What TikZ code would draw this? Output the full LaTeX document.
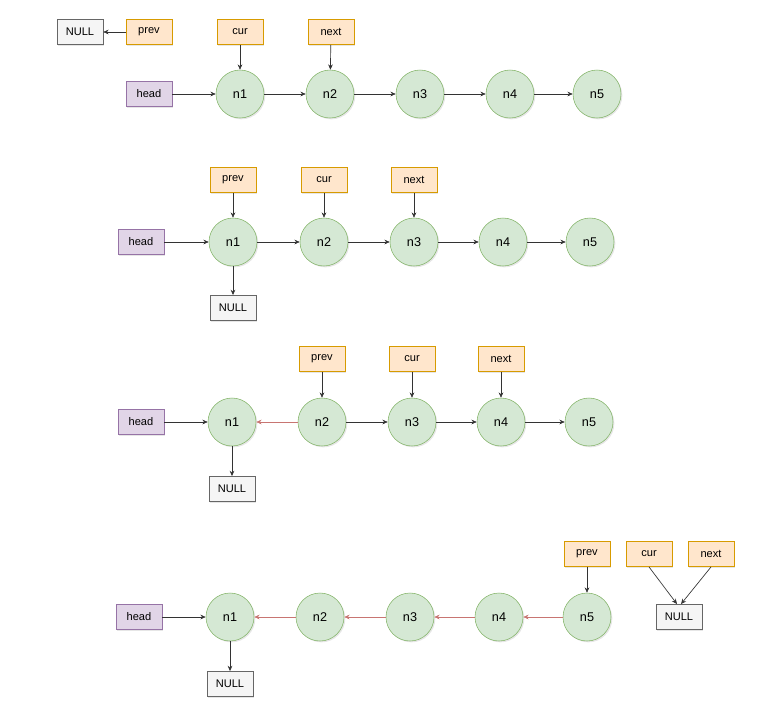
\documentclass[tikz,border=0pt]{standalone}
\usepackage{fontspec}
\setmainfont{Liberation Sans}
\usepackage{tikz}
\usetikzlibrary{arrows.meta, positioning, shadows}
\definecolor{NodeGreen}{HTML}{D5E8D4}
\definecolor{NodeGreenLine}{HTML}{82B366}
\definecolor{PtrOrange}{HTML}{FFE6CC}
\definecolor{PtrOrangeLine}{HTML}{D79B00}
\definecolor{HeadPurple}{HTML}{E1D5E7}
\definecolor{HeadPurpleLine}{HTML}{9673A6}
\definecolor{NullGray}{HTML}{F5F5F5}
\definecolor{NullGrayLine}{HTML}{666666}
\definecolor{RevRed}{HTML}{C87572}
\tikzset{
  soft/.style={drop shadow={opacity=0.2, shadow xshift=1pt, shadow yshift=-1pt}},
  lnode/.style={circle, soft, fill=NodeGreen, draw=NodeGreenLine, minimum size=36pt, inner sep=0pt, font=\fontsize{9.5}{11}\selectfont},
  box/.style={rectangle, soft, minimum width=34.5pt, minimum height=19pt, inner sep=0pt, font=\fontsize{8.3}{9}\selectfont},
  ptr/.style={box, fill=PtrOrange, draw=PtrOrangeLine},
  headbox/.style={box, fill=HeadPurple, draw=HeadPurpleLine},
  nullbox/.style={box, fill=NullGray, draw=NullGrayLine},
  link/.style={-{Stealth[length=4pt, width=3.5pt]}, draw=black!80, line width=0.5pt},
  back/.style={link, draw=RevRed}
}
\begin{document}
\begin{tikzpicture}[x=0.75pt, y=-0.75pt]
    \useasboundingbox (0,0) rectangle (781,719);

    % Step 1 - prev = NULL, cur = n1
    \node[nullbox] (a-null) at (80,32) {NULL};
    \node[ptr] (a-prev) at (149,32) {prev};
    \node[ptr] (a-cur) at (240,32) {cur};
    \node[ptr] (a-next) at (331,32) {next};
    \node[headbox] (a-head) at (149,94) {head};
    \node[lnode] (a1) at (240,94) {n1};
    \node[lnode] (a2) at (330,94) {n2};
    \node[lnode] (a3) at (420,94) {n3};
    \node[lnode] (a4) at (510,94) {n4};
    \node[lnode] (a5) at (597,94) {n5};
    \draw[link] (a-prev) -- (a-null);
    \draw[link] (a-cur) -- (a1);
    \draw[link] (a-next) -- (a2);
    \draw[link] (a-head) -- (a1);
    \draw[link] (a1) -- (a2);
    \draw[link] (a2) -- (a3);
    \draw[link] (a3) -- (a4);
    \draw[link] (a4) -- (a5);

    % Step 2 - n1 points to NULL
    \node[ptr] (b-prev) at (233,180) {prev};
    \node[ptr] (b-cur) at (324,180) {cur};
    \node[ptr] (b-next) at (414,180) {next};
    \node[headbox] (b-head) at (141,242) {head};
    \node[lnode] (b1) at (233,242) {n1};
    \node[lnode] (b2) at (324,242) {n2};
    \node[lnode] (b3) at (414,242) {n3};
    \node[lnode] (b4) at (503,242) {n4};
    \node[lnode] (b5) at (590,242) {n5};
    \node[nullbox] (b-null) at (233,308) {NULL};
    \draw[link] (b-prev) -- (b1);
    \draw[link] (b-cur) -- (b2);
    \draw[link] (b-next) -- (b3);
    \draw[link] (b-head) -- (b1);
    \draw[link] (b1) -- (b2);
    \draw[link] (b2) -- (b3);
    \draw[link] (b3) -- (b4);
    \draw[link] (b4) -- (b5);
    \draw[link] (b1) -- (b-null);

    % Step 3 - n2 points back to n1
    \node[ptr] (c-prev) at (322,359) {prev};
    \node[ptr] (c-cur) at (412,359) {cur};
    \node[ptr] (c-next) at (501,359) {next};
    \node[headbox] (c-head) at (141,422) {head};
    \node[lnode] (c1) at (232,422) {n1};
    \node[lnode] (c2) at (322,422) {n2};
    \node[lnode] (c3) at (412,422) {n3};
    \node[lnode] (c4) at (501,422) {n4};
    \node[lnode] (c5) at (589,422) {n5};
    \node[nullbox] (c-null) at (232,489) {NULL};
    \draw[link] (c-prev) -- (c2);
    \draw[link] (c-cur) -- (c3);
    \draw[link] (c-next) -- (c4);
    \draw[link] (c-head) -- (c1);
    \draw[back] (c2) -- (c1);
    \draw[link] (c2) -- (c3);
    \draw[link] (c3) -- (c4);
    \draw[link] (c4) -- (c5);
    \draw[link] (c1) -- (c-null);

    % Step 4 - whole list reversed
    \node[ptr] (d-prev) at (587,554) {prev};
    \node[ptr] (d-cur) at (649,554) {cur};
    \node[ptr] (d-next) at (711,554) {next};
    \node[nullbox] (d-end) at (679,617) {NULL};
    \node[headbox] (d-head) at (139,617) {head};
    \node[lnode] (d1) at (230,617) {n1};
    \node[lnode] (d2) at (320,617) {n2};
    \node[lnode] (d3) at (410,617) {n3};
    \node[lnode] (d4) at (499,617) {n4};
    \node[lnode] (d5) at (587,617) {n5};
    \node[nullbox] (d-null) at (230,684) {NULL};
    \draw[link] (d-prev) -- (d5);
    \draw[link] (d-cur.south) -- ([xshift=-1.5pt]d-end.north);
    \draw[link] (d-next.south) -- ([xshift=1.5pt]d-end.north);
    \draw[link] (d-head) -- (d1);
    \draw[back] (d2) -- (d1);
    \draw[back] (d3) -- (d2);
    \draw[back] (d4) -- (d3);
    \draw[back] (d5) -- (d4);
    \draw[link] (d1) -- (d-null);
\end{tikzpicture}
\end{document}
